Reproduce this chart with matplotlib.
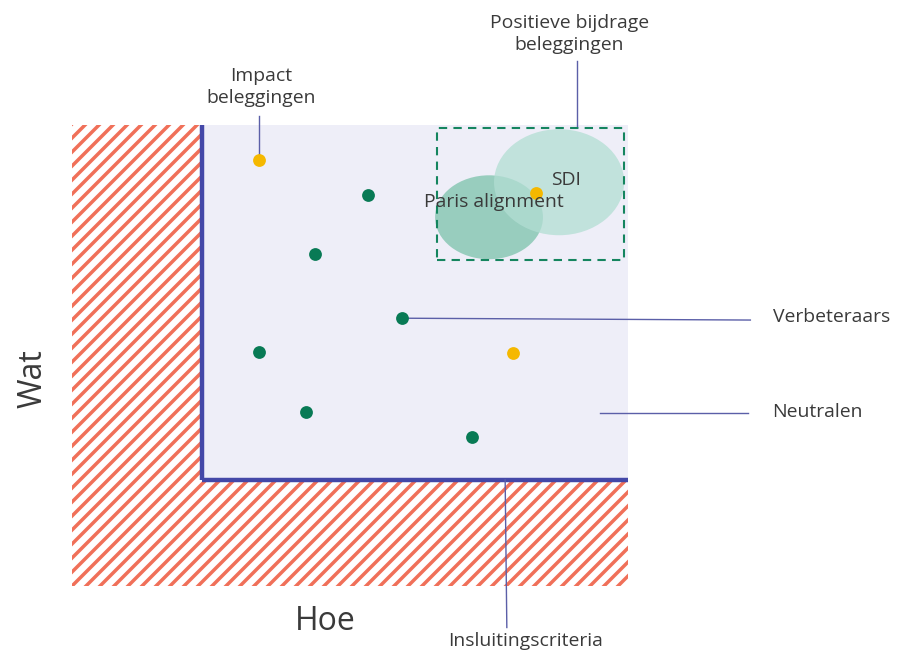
import matplotlib.pyplot as plt
from matplotlib.patches import Rectangle, Ellipse

DPI = 84          # chosen so the '//' hatch gets the same stripe spacing as the original
S = 100 / DPI     # keeps sizes as they would be at 100 dpi

plt.rcParams['font.family'] = ['Open Sans', 'DejaVu Sans']
plt.rcParams['hatch.linewidth'] = 3.0
plt.rcParams['hatch.color'] = '#f07059'

# scores on a 0-10 scale: "Hoe" (x) and "Wat" (y)
threshold_hoe = 2.34
threshold_wat = 2.30

green_hoe = [5.32, 4.37, 5.94, 3.36, 4.21, 7.19]
green_wat = [8.48, 7.20, 5.81, 5.08, 3.77, 3.23]

yellow_hoe = [3.36, 7.93, 8.35]
yellow_wat = [9.24, 5.05, 8.52]

# clusters: name, centre hoe, centre wat, width, height, colour
clusters = [
    ("Paris alignment", 7.50, 8.00, 1.94, 1.82, '#7cc2ab'),
    ("SDI", 8.76, 8.76, 2.34, 2.30, '#b2ded3'),
]
cluster_labels = [("Paris alignment", 7.59, 8.33), ("SDI", 8.88, 8.81)]
box_hoe = (6.56, 9.93)
box_wat = (7.07, 9.93)

line_col = '#5b5fa8'

fig = plt.figure(figsize=(906 / DPI, 651 / DPI), dpi=DPI)
ax = fig.add_axes([0.0795, 0.0998, 0.6137, 0.7081])
ax.set_xlim(0, 10)
ax.set_ylim(0, 10)
ax.axis('off')

# excluded zone (hatched) and accepted zone
ax.add_patch(Rectangle((0, 0), 10, 10, facecolor='white', edgecolor='#f07059',
                       hatch='//', linewidth=0, zorder=0))
ax.add_patch(Rectangle((threshold_hoe, threshold_wat), 10 - threshold_hoe,
                       10 - threshold_wat, facecolor='#eeeef8', linewidth=0, zorder=1))
ax.plot([threshold_hoe, threshold_hoe], [threshold_wat, 10], color='#4448a8', lw=3.2 * S,
        solid_capstyle='butt', zorder=2)
ax.plot([threshold_hoe, 10], [threshold_wat, threshold_wat], color='#4448a8', lw=3.2 * S,
        solid_capstyle='butt', zorder=2)

for name, cx, cy, w, h, col in clusters:
    ax.add_patch(Ellipse((cx, cy), w, h, facecolor=col, alpha=0.75, linewidth=0, zorder=3))

ax.add_patch(Rectangle((box_hoe[0], box_wat[0]), box_hoe[1] - box_hoe[0],
                       box_wat[1] - box_wat[0], fill=False, edgecolor='#15855f',
                       linestyle=(0, (4, 3)), lw=1.5 * S, zorder=4))

# leader lines
lw = 1 * S
ax.plot([3.36, 3.36], [9.35, 10.2], color=line_col, lw=lw, clip_on=False, zorder=2)
ax.plot([9.09, 9.09], [9.95, 11.4], color=line_col, lw=lw, clip_on=False, zorder=2)
ax.plot([5.94, 12.2], [5.81, 5.77], color=line_col, lw=lw, clip_on=False, zorder=2)
ax.plot([9.5, 12.15], [3.75, 3.75], color=line_col, lw=lw, clip_on=False, zorder=2)
ax.plot([7.79, 7.82], [threshold_wat, -0.9], color=line_col, lw=lw, clip_on=False, zorder=2)

ax.scatter(green_hoe, green_wat, s=85 * S * S, color='#087a55', linewidths=0, zorder=5)
ax.scatter(yellow_hoe, yellow_wat, s=85 * S * S, color='#f5b800', linewidths=0, zorder=5)

txt = '#3a3a3a'
fs = 14 * S
for name, x, y in cluster_labels:
    ax.text(x, y, name, ha='center', va='center', fontsize=fs, color=txt, zorder=6)

ax.text(3.4, 10.83, "Impact\nbeleggingen", ha='center', va='center', fontsize=fs,
        color=txt, linespacing=1.25, clip_on=False)
ax.text(8.94, 11.98, "Positieve bijdrage\nbeleggingen", ha='center', va='center',
        fontsize=fs, color=txt, linespacing=1.25, clip_on=False)
ax.text(12.6, 5.84, "Verbeteraars", ha='left', va='center', fontsize=fs, color=txt,
        clip_on=False)
ax.text(12.6, 3.77, "Neutralen", ha='left', va='center', fontsize=fs, color=txt,
        clip_on=False)
ax.text(8.15, -1.2, "Insluitingscriteria", ha='center', va='center', fontsize=fs,
        color=txt, clip_on=False)

ax.text(-0.7, 4.51, "Wat", rotation=90, ha='center', va='center', fontsize=23 * S,
        color=txt, clip_on=False)
ax.text(4.55, -0.78, "Hoe", ha='center', va='center', fontsize=23 * S, color=txt,
        clip_on=False)

fig.savefig('out.png', dpi=DPI)
